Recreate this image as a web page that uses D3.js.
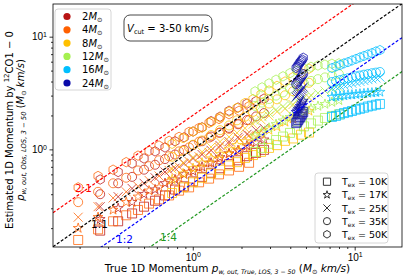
<!DOCTYPE html>
<html lang="en">
<head>
<meta charset="utf-8">
<title>Estimated vs true 1D momentum</title>
<script src="https://d3js.org/d3.v7.min.js"></script>
<style>
  body { margin: 0; background: #fff; }
  svg { font-family: "DejaVu Sans", sans-serif; }
  .tick text { font-size: 10px; fill: #000; }
  .tick line { stroke: #000; stroke-width: 0.8; }
  .frame { fill: none; stroke: #000; stroke-width: 0.8; }
  .mark { fill: none; stroke-width: 1; stroke-opacity: 0.75; }
  .ratio { fill: none; stroke-width: 1.2; stroke-dasharray: 3, 1.8; }
</style>
</head>
<body>
<div id="chart"></div>
<script>
// categories
const masses = ["2", "4", "8", "12", "16", "24"];
const temps = ["10K", "17K", "25K", "35K", "50K"];
const ratioValues = [2, 1, 0.5, 0.25];
const ratioLabels = ["2:1", "1:1", "1:2", "1:4"];
const majorTicks = [1, 10];
const majorExp = ["0", "1"];

// true momentum per snapshot (x) and estimate per T_ex (y), one row per temp
const true02 = [0.268, 0.346, 0.422, 0.500, 0.585, 0.674, 0.777, 0.884, 1.004, 1.141, 1.297, 1.474, 1.675, 1.904, 2.163, 2.459, 2.755];
const obs02 = [
  [0.19, 0.23, 0.27, 0.31, 0.35, 0.39, 0.44, 0.47, 0.52, 0.57, 0.62, 0.68, 0.74, 0.80, 0.87, 0.93, 0.99],
  [0.24, 0.30, 0.34, 0.40, 0.44, 0.50, 0.54, 0.60, 0.64, 0.70, 0.76, 0.85, 0.92, 0.98, 1.08, 1.15, 1.22],
  [0.31, 0.38, 0.45, 0.50, 0.56, 0.63, 0.68, 0.75, 0.83, 0.90, 0.98, 1.08, 1.17, 1.28, 1.36, 1.48, 1.54],
  [0.40, 0.50, 0.57, 0.66, 0.73, 0.82, 0.90, 0.99, 1.09, 1.18, 1.30, 1.41, 1.55, 1.67, 1.82, 1.96, 2.10],
  [0.54, 0.63, 0.75, 0.83, 0.96, 1.04, 1.18, 1.28, 1.44, 1.57, 1.78, 1.95, 2.20, 2.35, 2.55, 2.68, 2.82]
];
const true04 = [0.196, 0.260, 0.322, 0.388, 0.459, 0.537, 0.619, 0.714, 0.823, 0.949, 1.094, 1.261, 1.453, 1.675, 1.931, 2.227];
const obs04 = [
  [0.157, 0.195, 0.23, 0.26, 0.29, 0.33, 0.36, 0.39, 0.43, 0.46, 0.51, 0.55, 0.60, 0.65, 0.70, 0.76],
  [0.20, 0.25, 0.29, 0.34, 0.38, 0.43, 0.46, 0.52, 0.56, 0.63, 0.69, 0.76, 0.82, 0.91, 0.96, 1.05],
  [0.25, 0.31, 0.37, 0.42, 0.47, 0.53, 0.58, 0.65, 0.70, 0.78, 0.86, 0.94, 1.04, 1.12, 1.24, 1.33],
  [0.34, 0.42, 0.50, 0.56, 0.65, 0.71, 0.80, 0.87, 0.96, 1.04, 1.17, 1.27, 1.40, 1.52, 1.69, 1.82],
  [0.46, 0.58, 0.66, 0.77, 0.88, 0.97, 1.08, 1.19, 1.29, 1.43, 1.55, 1.72, 1.86, 2.05, 2.20, 2.42]
];
const true08 = [0.745, 0.871, 1.004, 1.141, 1.297, 1.474, 1.675, 1.876, 2.102, 2.355, 2.640, 2.958, 3.314, 3.714, 4.161, 4.663, 5.224];
const obs08 = [
  [0.41, 0.46, 0.51, 0.56, 0.61, 0.66, 0.72, 0.77, 0.84, 0.89, 0.95, 1.03, 1.09, 1.19, 1.25, 1.35, 1.41],
  [0.54, 0.61, 0.68, 0.76, 0.83, 0.91, 1.00, 1.09, 1.18, 1.27, 1.37, 1.48, 1.59, 1.75, 1.87, 2.05, 2.19],
  [0.67, 0.76, 0.85, 0.95, 1.05, 1.17, 1.29, 1.40, 1.54, 1.67, 1.83, 1.98, 2.16, 2.30, 2.50, 2.70, 2.88],
  [0.86, 0.97, 1.10, 1.20, 1.34, 1.48, 1.63, 1.81, 1.95, 2.15, 2.31, 2.55, 2.78, 3.02, 3.28, 3.60, 3.90],
  [1.12, 1.26, 1.44, 1.56, 1.75, 1.92, 2.16, 2.33, 2.58, 2.79, 3.08, 3.33, 3.66, 4.00, 4.38, 4.78, 5.20]
];
const true12 = [2.425, 2.678, 2.958, 3.267, 3.608, 3.986, 4.403, 4.863, 5.371, 5.932, 6.552, 7.237, 7.993];
const obs12 = [
  [0.95, 1.03, 1.12, 1.21, 1.30, 1.40, 1.50, 1.60, 1.70, 1.80, 1.90, 1.98, 2.05],
  [1.32, 1.43, 1.55, 1.67, 1.80, 1.93, 2.05, 2.17, 2.30, 2.42, 2.52, 2.62, 2.72],
  [1.80, 1.95, 2.10, 2.25, 2.40, 2.55, 2.72, 2.88, 3.02, 3.16, 3.30, 3.42, 3.55],
  [2.43, 2.60, 2.80, 3.00, 3.20, 3.45, 3.65, 3.85, 4.05, 4.20, 4.35, 4.50, 4.65],
  [3.27, 3.55, 3.85, 4.15, 4.45, 4.75, 5.00, 5.20, 5.40, 5.55, 5.65, 5.75, 5.80]
];
const true16 = [7.24, 7.67, 8.12, 8.59, 9.09, 9.62, 10.19, 10.78, 11.41, 12.07, 12.78, 13.53, 14.32];
const obs16 = [
  [1.94, 1.98, 2.04, 2.10, 2.14, 2.19, 2.25, 2.29, 2.34, 2.40, 2.44, 2.49, 2.53],
  [2.91, 2.95, 2.97, 3.00, 3.04, 3.05, 3.08, 3.11, 3.13, 3.16, 3.18, 3.21, 3.23],
  [3.50, 3.57, 3.64, 3.72, 3.80, 3.86, 3.94, 4.01, 4.08, 4.16, 4.22, 4.30, 4.38],
  [3.96, 4.04, 4.12, 4.21, 4.28, 4.36, 4.45, 4.52, 4.60, 4.66, 4.74, 4.80, 4.86],
  [5.27, 5.45, 5.60, 5.80, 5.95, 6.15, 6.35, 6.55, 6.75, 6.95, 7.15, 7.40, 7.60]
];
const true24 = [4.35, 4.42, 4.48, 4.55, 4.61, 4.68, 4.74, 4.81];
const obs24 = [
  [1.71, 1.76, 1.82, 1.88, 1.94, 2.00, 2.07, 2.14],
  [2.14, 2.20, 2.27, 2.34, 2.42, 2.50, 2.59, 2.69],
  [2.91, 3.00, 3.08, 3.17, 3.26, 3.36, 3.46, 3.57],
  [3.80, 3.92, 4.03, 4.15, 4.27, 4.40, 4.52, 4.66],
  [5.27, 5.42, 5.60, 5.78, 5.95, 6.10, 6.25, 6.50]
];

// styles
const massColors = ["#b81414", "#ff6000", "#ffc000", "#a5f050", "#00bfff", "#0a0aaa"];
const ratioColors = ["#ff0000", "#000000", "#0000ff", "#229922"];

const trueSets = [true02, true04, true08, true12, true16, true24];
const obsSets = [obs02, obs04, obs08, obs12, obs16, obs24];

const width = 407, height = 279;
const pLeft = 53, pRight = 402, pTop = 4, pBottom = 247;

const svg = d3.select("#chart").append("svg")
  .attr("width", width).attr("height", height);

const x = d3.scaleLog().domain([0.137, 19.6]).range([pLeft, pRight]);
const y = d3.scaleLog().domain([0.136, 19.5]).range([pBottom, pTop]);

// marker shapes
function sqPath(h) { return `M${-h},${-h}H${h}V${h}H${-h}Z`; }
function xPath(h) { return `M${-h},${-h}L${h},${h}M${-h},${h}L${h},${-h}`; }
function circPath(r) { return `M${r},0A${r},${r} 0 1,1 ${-r},0A${r},${r} 0 1,1 ${r},0Z`; }
function polyPath(n, R, inner) {
  const pts = [];
  const k = inner ? 2 * n : n;
  for (let i = 0; i < k; i++) {
    const a = -Math.PI / 2 + i * Math.PI * 2 / k;
    const r = inner && i % 2 ? R * inner : R;
    pts.push([r * Math.cos(a), r * Math.sin(a)]);
  }
  return "M" + pts.map(p => p[0].toFixed(2) + "," + p[1].toFixed(2)).join("L") + "Z";
}
function markerPaths(s) {
  return [sqPath(s), polyPath(5, s * 1.15, 0.382), xPath(s), circPath(s), polyPath(6, s * 1.05)];
}
const plotMarkers = markerPaths(4.5);
const legendMarkers = markerPaths(3.6);

svg.append("defs").append("clipPath").attr("id", "plotClip")
  .append("rect").attr("x", pLeft).attr("y", pTop)
  .attr("width", pRight - pLeft).attr("height", pBottom - pTop);

// points
const pts = svg.append("g").attr("clip-path", "url(#plotClip)");
trueSets.forEach(function (xs, m) {
  obsSets[m].forEach(function (ys, t) {
    pts.append("g").selectAll("path")
      .data(xs.map((v, i) => [v, ys[i]]))
      .enter().append("path")
      .attr("class", "mark")
      .attr("d", plotMarkers[t])
      .attr("stroke", massColors[m])
      .attr("transform", d => `translate(${x(d[0])},${y(d[1])})`);
  });
});

// ratio lines
const lines = svg.append("g").attr("clip-path", "url(#plotClip)");
ratioValues.forEach(function (r, i) {
  const xs = x.domain();
  lines.append("path").attr("class", "ratio")
    .attr("stroke", ratioColors[i])
    .attr("d", d3.line().x(d => x(d)).y(d => y(d * r))(xs));
});
const labelPos = [[75, 192], [91, 228], [116, 243], [160, 241]];
ratioLabels.forEach(function (t, i) {
  svg.append("text").attr("x", labelPos[i][0]).attr("y", labelPos[i][1])
    .attr("font-size", 10.5).attr("fill", ratioColors[i]).text(t);
});

// axes
function isMajor(v) { return Math.abs(Math.log10(v) - Math.round(Math.log10(v))) < 1e-6; }
function powLabel(sel) {
  sel.selectAll(".tick text").text(null).each(function (d, i) {
    const t = d3.select(this);
    t.append("tspan").text("10");
    t.append("tspan").attr("dy", "-0.45em").attr("font-size", 7).text(majorExp[i]);
  });
}
const xAxis = svg.append("g").attr("transform", `translate(0,${pBottom})`)
  .call(d3.axisBottom(x).tickValues(majorTicks).tickSize(3.5).tickPadding(3));
xAxis.call(powLabel);
svg.append("g").attr("transform", `translate(0,${pBottom})`)
  .call(d3.axisBottom(x).tickValues(x.ticks().filter(v => !isMajor(v))).tickSize(2).tickFormat(""));
const yAxis = svg.append("g").attr("transform", `translate(${pLeft},0)`)
  .call(d3.axisLeft(y).tickValues(majorTicks).tickSize(3.5).tickPadding(2.5));
yAxis.call(powLabel);
svg.append("g").attr("transform", `translate(${pLeft},0)`)
  .call(d3.axisLeft(y).tickValues(y.ticks().filter(v => !isMajor(v))).tickSize(2).tickFormat(""));
svg.selectAll(".domain").remove();

svg.append("rect").attr("class", "frame")
  .attr("x", pLeft).attr("y", pTop).attr("width", pRight - pLeft).attr("height", pBottom - pTop);

// axis labels
const xl = svg.append("text").attr("x", (pLeft + pRight) / 2).attr("y", 272)
  .attr("text-anchor", "middle").attr("font-size", 10.5);
xl.append("tspan").text("True 1D Momentum ");
xl.append("tspan").attr("font-style", "italic").text("p");
xl.append("tspan").attr("font-style", "italic").attr("font-size", 6.2).attr("dy", 2).text("w, out, True, LOS, 3 − 50");
xl.append("tspan").attr("dy", -2).text(" (");
xl.append("tspan").attr("font-style", "italic").text("M");
xl.append("tspan").attr("font-size", 6.5).attr("dy", 2).text("⊙");
xl.append("tspan").attr("font-style", "italic").attr("dy", -2).text(" km/s");
xl.append("tspan").text(")");

const yl1 = svg.append("text").attr("transform", "translate(13,130) rotate(-90)")
  .attr("text-anchor", "middle").attr("font-size", 10);
yl1.append("tspan").text("Estimated 1D Momentum by ");
yl1.append("tspan").attr("font-size", 7).attr("dy", -4).text("12");
yl1.append("tspan").attr("dy", 4).text("CO1 − 0");

const yl2 = svg.append("text").attr("transform", "translate(24,130) rotate(-90)")
  .attr("text-anchor", "middle").attr("font-size", 10);
yl2.append("tspan").attr("font-style", "italic").text("p");
yl2.append("tspan").attr("font-style", "italic").attr("font-size", 6.8).attr("dy", 2).text("w, out, Obs, LOS, 3 − 50");
yl2.append("tspan").attr("dy", -2).text(" (");
yl2.append("tspan").attr("font-style", "italic").text("M");
yl2.append("tspan").attr("font-size", 6.5).attr("dy", 2).text("⊙");
yl2.append("tspan").attr("font-style", "italic").attr("dy", -2).text(" km/s");
yl2.append("tspan").text(")");

// mass legend
svg.append("rect").attr("x", 55).attr("y", 9).attr("width", 56).attr("height", 81)
  .attr("rx", 3).attr("fill", "#fff").attr("fill-opacity", 0.85).attr("stroke", "#cccccc").attr("stroke-width", 0.8);
masses.forEach(function (m, i) {
  const cy = 16.5 + i * 13.3;
  svg.append("circle").attr("cx", 67).attr("cy", cy).attr("r", 3.6).attr("fill", massColors[i]);
  const t = svg.append("text").attr("x", 82).attr("y", cy + 3.5).attr("font-size", 10);
  t.append("tspan").text(m);
  t.append("tspan").attr("font-style", "italic").text("M");
  t.append("tspan").attr("font-size", 6.5).attr("dy", 2).text("⊙");
});

// velocity cut box
svg.append("rect").attr("x", 124).attr("y", 15).attr("width", 88).attr("height", 26)
  .attr("rx", 6).attr("fill", "#fff").attr("stroke", "#333").attr("stroke-width", 0.9);
const vt = svg.append("text").attr("x", 168).attr("y", 32).attr("text-anchor", "middle").attr("font-size", 10);
vt.append("tspan").attr("font-style", "italic").text("V");
vt.append("tspan").attr("font-size", 6.5).attr("dy", 2).text("cut");
vt.append("tspan").attr("dy", -2).text(" = 3-50 km/s");

// temperature legend
svg.append("rect").attr("x", 315).attr("y", 173).attr("width", 73).attr("height", 70)
  .attr("rx", 3).attr("fill", "#fff").attr("fill-opacity", 0.85).attr("stroke", "#cccccc").attr("stroke-width", 0.8);
temps.forEach(function (tk, i) {
  const cy = 181.7 + i * 13.15;
  svg.append("path").attr("d", legendMarkers[i]).attr("fill", "none")
    .attr("stroke", "#333").attr("stroke-width", 1)
    .attr("transform", `translate(327,${cy})`);
  const t = svg.append("text").attr("x", 342).attr("y", cy + 3.5).attr("font-size", 9.5);
  t.append("tspan").text("T");
  t.append("tspan").attr("font-size", 6).attr("dy", 2).text("ex");
  t.append("tspan").attr("dy", -2).text(" = " + tk);
});
</script>
</body>
</html>
